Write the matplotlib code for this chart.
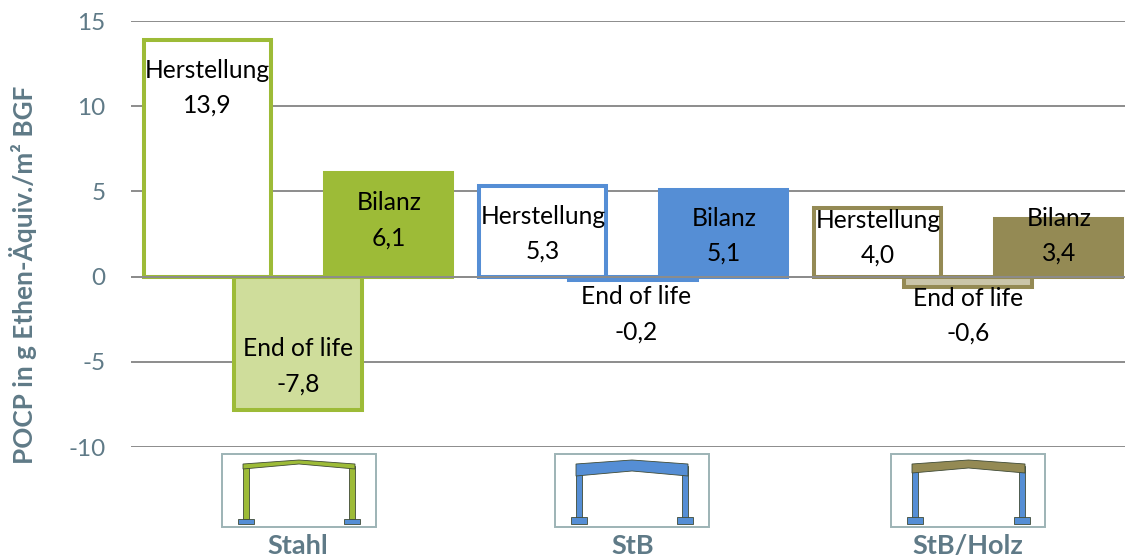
import matplotlib
matplotlib.use("Agg")
import matplotlib.pyplot as plt
from matplotlib.patches import Polygon, Rectangle
from matplotlib.transforms import Affine2D

W, H = 1125, 560
categories = ["Stahl", "StB", "StB/Holz"]
series_names = ["Herstellung", "End of life", "Bilanz"]
herstellung = [13.9, 5.3, 4.0]
end_of_life = [-7.8, -0.2, -0.6]
bilanz = [6.1, 5.1, 3.4]
y_ticks = [-10, -5, 0, 5, 10, 15]
y_label = "POCP in g Ethen-Äquiv./m² BGF"

strong = ["#9DBB37", "#558ED5", "#948A54"]
light = ["#CFDD9B", "#558ED5", "#CAC5A9"]
AXC = "#5F7A87"
GRID = "#8C8C8C"
FONT = "Lato"

# label centres (first-line y in pixels of the figure)
label_px = [
    [(207, 70), (298, 349), (389, 203)],
    [(543, 216), (636, 297), (724, 218)],
    [(878, 220), (968, 298), (1059, 218)],
]
LINE = 35

fig = plt.figure(figsize=(W / 100, H / 100), dpi=100, facecolor="white")
ax = fig.add_axes([130.5 / W, (H - 447) / H, 1005 / W, 426 / H])
ax.set_xlim(-0.5, 2.5)
ax.set_ylim(-10, 15)
ax.set_facecolor("white")
for s in ax.spines.values():
    s.set_visible(False)
ax.set_yticks(y_ticks)
ax.set_yticklabels([str(t) for t in y_ticks], fontsize=17.5, color=AXC, family=FONT)
ax.tick_params(axis="y", length=0, pad=18)
ax.set_xticks([])
ax.yaxis.grid(True, color=GRID, lw=1.4)
ax.set_axisbelow(True)

bw, off = 0.38, 0.27
LW = 2.9
for i in range(3):
    ax.bar(i - off, herstellung[i], bw, facecolor="white", edgecolor=strong[i], lw=LW, zorder=2)
    ax.bar(i, end_of_life[i], bw, facecolor=light[i], edgecolor=strong[i], lw=LW, zorder=3)
    ax.bar(i + off, bilanz[i], bw, facecolor=strong[i], edgecolor=strong[i], lw=LW, zorder=4)
ax.axhline(0, color=GRID, lw=1.4, zorder=5)

px = Affine2D().scale(1, -1).translate(0, H)  # figure pixels, y down


def poly(pts, fc, ec="#3F4A35", lw=0.6):
    fig.add_artist(Polygon(pts, closed=True, facecolor=fc, edgecolor=ec, lw=lw,
                           transform=px, zorder=7))


BLUE = "#558ED5"
box_left = [222, 555, 891]
icon_cx = [299, 632, 968.5]
label_cx = [298, 633, 968]
beam_drop = [5, 12, 9]
beam_cols = [strong[0], BLUE, strong[2]]
col_cols = [strong[0], BLUE, BLUE]
foot_h = [5, 7, 7]
half = [56, 56, 56.5]
for i, cx in enumerate(icon_cx):
    fig.add_artist(Rectangle((box_left[i], 454), 154, 73, facecolor="white", edgecolor="#9DB3B5",
                             lw=1.4, transform=px, zorder=6))
    fig.text(label_cx[i], H - 546, categories[i], transform=None, ha="center", va="center",
             fontsize=19.5, fontweight="bold", color=AXC, family=FONT, zorder=8)
    hw = half[i]
    d = beam_drop[i]
    for x0 in (cx - hw + 3, cx + hw - 3):
        poly([(x0 - 3, 466), (x0 + 3, 466), (x0 + 3, 519), (x0 - 3, 519)], col_cols[i])
        poly([(x0 - 8, 524 - foot_h[i]), (x0 + 8, 524 - foot_h[i]), (x0 + 8, 524), (x0 - 8, 524)], BLUE)
    poly([(cx - hw, 464), (cx, 460), (cx + hw, 464), (cx + hw, 464 + d),
          (cx, 459 + d), (cx - hw, 464 + d)], beam_cols[i])

values = [herstellung, end_of_life, bilanz]
for i in range(3):
    for j in range(3):
        x, y = label_px[i][j]
        fig.text(x, H - y, series_names[j], transform=None, ha="center", va="center",
                 fontsize=17.7, color="black", family=FONT, zorder=9)
        fig.text(x, H - y - LINE, f"{values[j][i]:.1f}".replace(".", ","), transform=None,
                 ha="center", va="center", fontsize=17.7, color="black", family=FONT, zorder=9)

fig.text(23, H - 275, y_label, rotation=90, ha="center", va="center", transform=None,
         fontsize=18.8, fontweight="bold", color=AXC, family=FONT)

fig.savefig("out.png", dpi=100, facecolor="white")
